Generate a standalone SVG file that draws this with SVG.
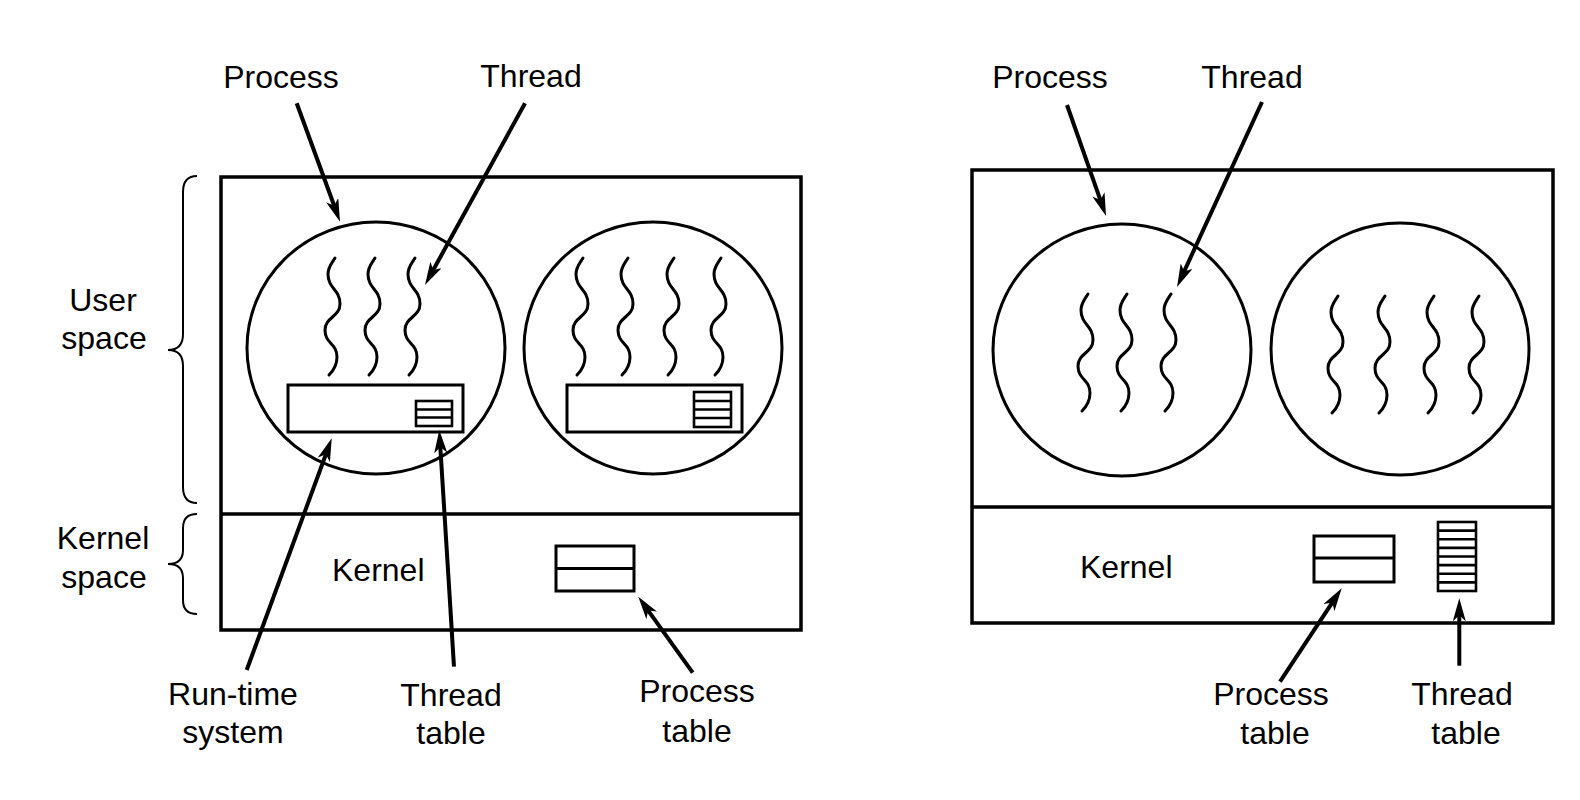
<svg xmlns="http://www.w3.org/2000/svg" xmlns:xlink="http://www.w3.org/1999/xlink" width="1580" height="800" viewBox="0 0 1580 800">
<style>
  .box { fill: none; stroke: #000; stroke-width: 3.5; }
  .thin { fill: none; stroke: #000; stroke-width: 3; }
  .tt { fill: none; stroke: #000; stroke-width: 2.6; }
  .wave { fill: none; stroke: #000; stroke-width: 3; stroke-linecap: round; }
  .brace { fill: none; stroke: #000; stroke-width: 2; }
  .arrow { fill: none; stroke: #000; stroke-width: 4; marker-end: url(#head); }
  text { font-family: "Liberation Sans", Arial, Helvetica, sans-serif; font-size: 32px; fill: #000; }
  .c { text-anchor: middle; }
</style>
<defs>
  <marker id="head" markerUnits="userSpaceOnUse" markerWidth="23" markerHeight="13" refX="13" refY="6.5" orient="auto">
    <path d="M0,0 L23,6.5 L0,13 L6,6.5 Z" fill="#000"/>
  </marker>
  <path id="w" class="wave" d="M3,0 C0,5 -4,9 -4,16 C-4,31 8,31 8,46 C8,59 -7,59 -7,72 C-7,86 5,85 5,99 C5,107 1,113 -3,117"/>
</defs>
<rect width="1580" height="800" fill="#fff"/>

<!-- Left diagram -->
<g id="left-system">
  <rect class="box" x="221" y="177" width="580" height="453"/>
  <line class="box" x1="221" y1="514" x2="801" y2="514"/>
</g>
<g id="user-space-label">
  <path class="brace" d="M197,176 Q183,176 183,192 L183,334 Q183,350 168,350 Q183,350 183,366 L183,487 Q183,503 197,503"/>
  <text class="c" x="103" y="311">User</text>
  <text class="c" x="104" y="349">space</text>
</g>
<g id="kernel-space-label">
  <path class="brace" d="M197,514 Q183,514 183,528 L183,550 Q183,564 168,564 Q183,564 183,578 L183,600 Q183,614 197,614"/>
  <text class="c" x="103" y="549">Kernel</text>
  <text class="c" x="104" y="588">space</text>
</g>
<g id="left-process-1">
  <ellipse class="thin" cx="376" cy="348" rx="129" ry="126"/>
  <use xlink:href="#w" x="332" y="258"/>
  <use xlink:href="#w" x="372" y="258"/>
  <use xlink:href="#w" x="412" y="258"/>
  <rect class="thin" x="288" y="385" width="175" height="47"/>
  <rect class="tt" x="416" y="401" width="36" height="25"/>
  <line class="tt" x1="416" y1="409.5" x2="452" y2="409.5"/>
  <line class="tt" x1="416" y1="417.5" x2="452" y2="417.5"/>
</g>
<g id="left-process-2">
  <ellipse class="thin" cx="653" cy="348" rx="129" ry="126"/>
  <use xlink:href="#w" x="580" y="258"/>
  <use xlink:href="#w" x="625" y="258"/>
  <use xlink:href="#w" x="671" y="258"/>
  <use xlink:href="#w" x="718" y="258"/>
  <rect class="thin" x="567" y="385" width="175" height="47"/>
  <rect class="tt" x="694" y="392" width="37" height="35"/>
  <line class="tt" x1="694" y1="401" x2="731" y2="401"/>
  <line class="tt" x1="694" y1="409.5" x2="731" y2="409.5"/>
  <line class="tt" x1="694" y1="418" x2="731" y2="418"/>
</g>
<g id="left-kernel">
  <text x="332" y="581">Kernel</text>
</g>
<g id="left-process-table">
  <rect class="thin" x="556" y="546" width="78" height="45"/>
  <line class="thin" x1="556" y1="568.5" x2="634" y2="568.5"/>
</g>
<g id="left-labels">
  <text class="c" x="281" y="88">Process</text>
  <text class="c" x="531" y="87">Thread</text>
  <text class="c" x="233" y="705">Run-time</text>
  <text class="c" x="233" y="743">system</text>
  <text class="c" x="451" y="706">Thread</text>
  <text class="c" x="451" y="744">table</text>
  <text class="c" x="697" y="702">Process</text>
  <text class="c" x="697" y="742">table</text>
</g>

<!-- Right diagram -->
<g id="right-system">
  <rect class="box" x="972" y="170" width="581" height="453"/>
  <line class="box" x1="972" y1="507" x2="1553" y2="507"/>
</g>
<g id="right-process-1">
  <ellipse class="thin" cx="1122" cy="350" rx="129" ry="126"/>
  <use xlink:href="#w" x="1085" y="294"/>
  <use xlink:href="#w" x="1124" y="294"/>
  <use xlink:href="#w" x="1168" y="294"/>
</g>
<g id="right-process-2">
  <ellipse class="thin" cx="1400" cy="349" rx="129" ry="126"/>
  <use xlink:href="#w" x="1335" y="296"/>
  <use xlink:href="#w" x="1382" y="296"/>
  <use xlink:href="#w" x="1431" y="296"/>
  <use xlink:href="#w" x="1476" y="296"/>
</g>
<g id="right-kernel">
  <text x="1080" y="578">Kernel</text>
</g>
<g id="right-process-table">
  <rect class="thin" x="1314" y="536" width="80" height="46"/>
  <line class="thin" x1="1314" y1="558" x2="1394" y2="558"/>
</g>
<g id="right-thread-table">
  <rect class="tt" x="1438" y="522" width="38" height="69"/>
  <line class="tt" x1="1438" y1="530.6" x2="1476" y2="530.6"/>
  <line class="tt" x1="1438" y1="539.3" x2="1476" y2="539.3"/>
  <line class="tt" x1="1438" y1="547.9" x2="1476" y2="547.9"/>
  <line class="tt" x1="1438" y1="556.5" x2="1476" y2="556.5"/>
  <line class="tt" x1="1438" y1="565.1" x2="1476" y2="565.1"/>
  <line class="tt" x1="1438" y1="573.8" x2="1476" y2="573.8"/>
  <line class="tt" x1="1438" y1="582.4" x2="1476" y2="582.4"/>
</g>
<g id="right-labels">
  <text class="c" x="1050" y="88">Process</text>
  <text class="c" x="1252" y="88">Thread</text>
  <text class="c" x="1271" y="705">Process</text>
  <text class="c" x="1275" y="744">table</text>
  <text class="c" x="1462" y="705">Thread</text>
  <text class="c" x="1466" y="744">table</text>
</g>

<g id="connectors">
  <line class="arrow" x1="296.7" y1="103.3" x2="336.6" y2="212.3"/>
  <line class="arrow" x1="525" y1="103.3" x2="429.8" y2="276.2"/>
  <line class="arrow" x1="246.7" y1="670" x2="328.3" y2="447.7"/>
  <line class="arrow" x1="454" y1="666.7" x2="439.9" y2="440"/>
  <line class="arrow" x1="692.7" y1="672.7" x2="644.1" y2="604.8"/>
  <line class="arrow" x1="1067" y1="105" x2="1102.7" y2="206.6"/>
  <line class="arrow" x1="1262" y1="102" x2="1181.2" y2="277.9"/>
  <line class="arrow" x1="1280" y1="681.7" x2="1336.2" y2="596.7"/>
  <line class="arrow" x1="1459.3" y1="665.7" x2="1459.3" y2="608.3"/>
</g>
</svg>
